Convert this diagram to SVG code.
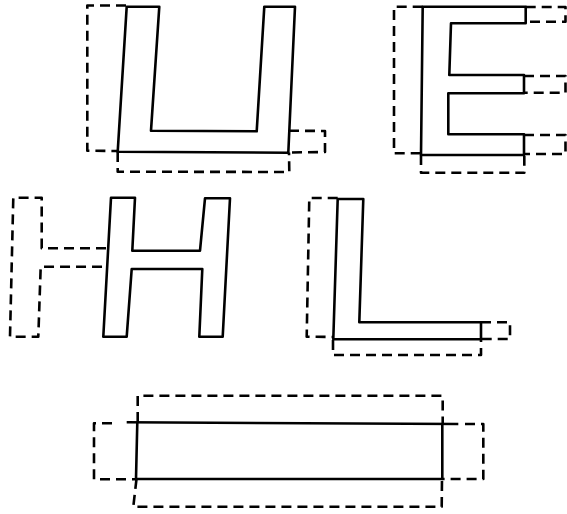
<svg xmlns="http://www.w3.org/2000/svg" width="567" height="514" viewBox="0 0 567 514">
<style>
.s{fill:none;stroke:#000;stroke-width:2.6;stroke-linejoin:round}
.d{fill:none;stroke:#000;stroke-width:2.6;stroke-dasharray:10 6;stroke-linejoin:round}
</style>
<rect width="567" height="514" fill="#fff"/>
<g id="U">
<path class="s" d="M126.7,6.7 L159.3,6.7 L151,130.7 L256.7,131.3 L264.3,6.7 L295,6.7 L288.3,152.7 L117.7,151.7 Z"/>
<path class="d" d="M126,5.5 L87.3,5.5 L87.3,150.7 L117.7,151"/>
<path class="d" d="M117.7,152 L117.7,171.7 L289.3,172 L289,152.5"/>
<path class="d" d="M289,130.7 L325,131 L325,152 L289,152.5"/>
</g>
<g id="E">
<path class="s" d="M422.7,6.7 L525.7,6.7 L525.7,23.3 L451,23.3 L449.3,75 L524,75 L524,93.3 L448.3,93.3 L448.3,134.3 L524,134.3 L524,155 L421,155 Z"/>
<path class="d" d="M422.7,6.7 L394,6.7 L394,153.3 L421,153.3"/>
<path class="d" d="M421,155 L421,172.7 L524.3,172.7 L524.3,155"/>
<path class="d" d="M525.7,7 L565.5,7 L565.5,21.7 L525.7,21.7"/>
<path class="d" d="M524,76 L565.5,76 L565.5,92.7 L524,92.7"/>
<path class="d" d="M524,135 L565.5,135 L565.5,154 L524,154"/>
</g>
<g id="H">
<path class="s" d="M111,197.7 L135,197.7 L132.3,250.7 L200,250.7 L205,198.3 L230,198.3 L222.7,336.7 L199.3,336.7 L202.3,269 L131.7,269 L126.7,336.7 L103.3,336.7 Z"/>
<path class="d" d="M106,248.3 L41.7,248.3 L41.7,197.7 L13.3,197.7 L10,336.7 L38.3,336.7 L40.7,266.7 L106,266.7"/>
</g>
<g id="L">
<path class="s" d="M337.7,199 L363.3,199 L359.3,322.3 L481,322.3 L481,339.3 L333.3,339.3 Z"/>
<path class="d" d="M337.7,198 L309.3,198 L306.7,336.7 L333,337"/>
<path class="d" d="M333,340 L333,355 L481,355 L481,340"/>
<path class="d" d="M481,322.3 L510,322.3 L510,339 L481,339"/>
</g>
<g id="bar">
<path class="s" d="M126.7,422.3 L458.3,424"/>
<path class="s" d="M137.3,422.5 L136,479 L442.3,479 L442.3,423.5"/>
<path class="d" d="M137.7,422 L137.7,395.7 L442.7,395.7 L442.7,423"/>
<path class="d" d="M136.5,479 L133.3,506.7 L441.7,506.7 L442,479"/>
<path class="d" d="M112,423.3 L94,423.3 L94,479.3 L136,479.3"/>
<path class="d" d="M465,424 L483.3,424 L483.3,479 L442.3,479"/>
</g>
</svg>
